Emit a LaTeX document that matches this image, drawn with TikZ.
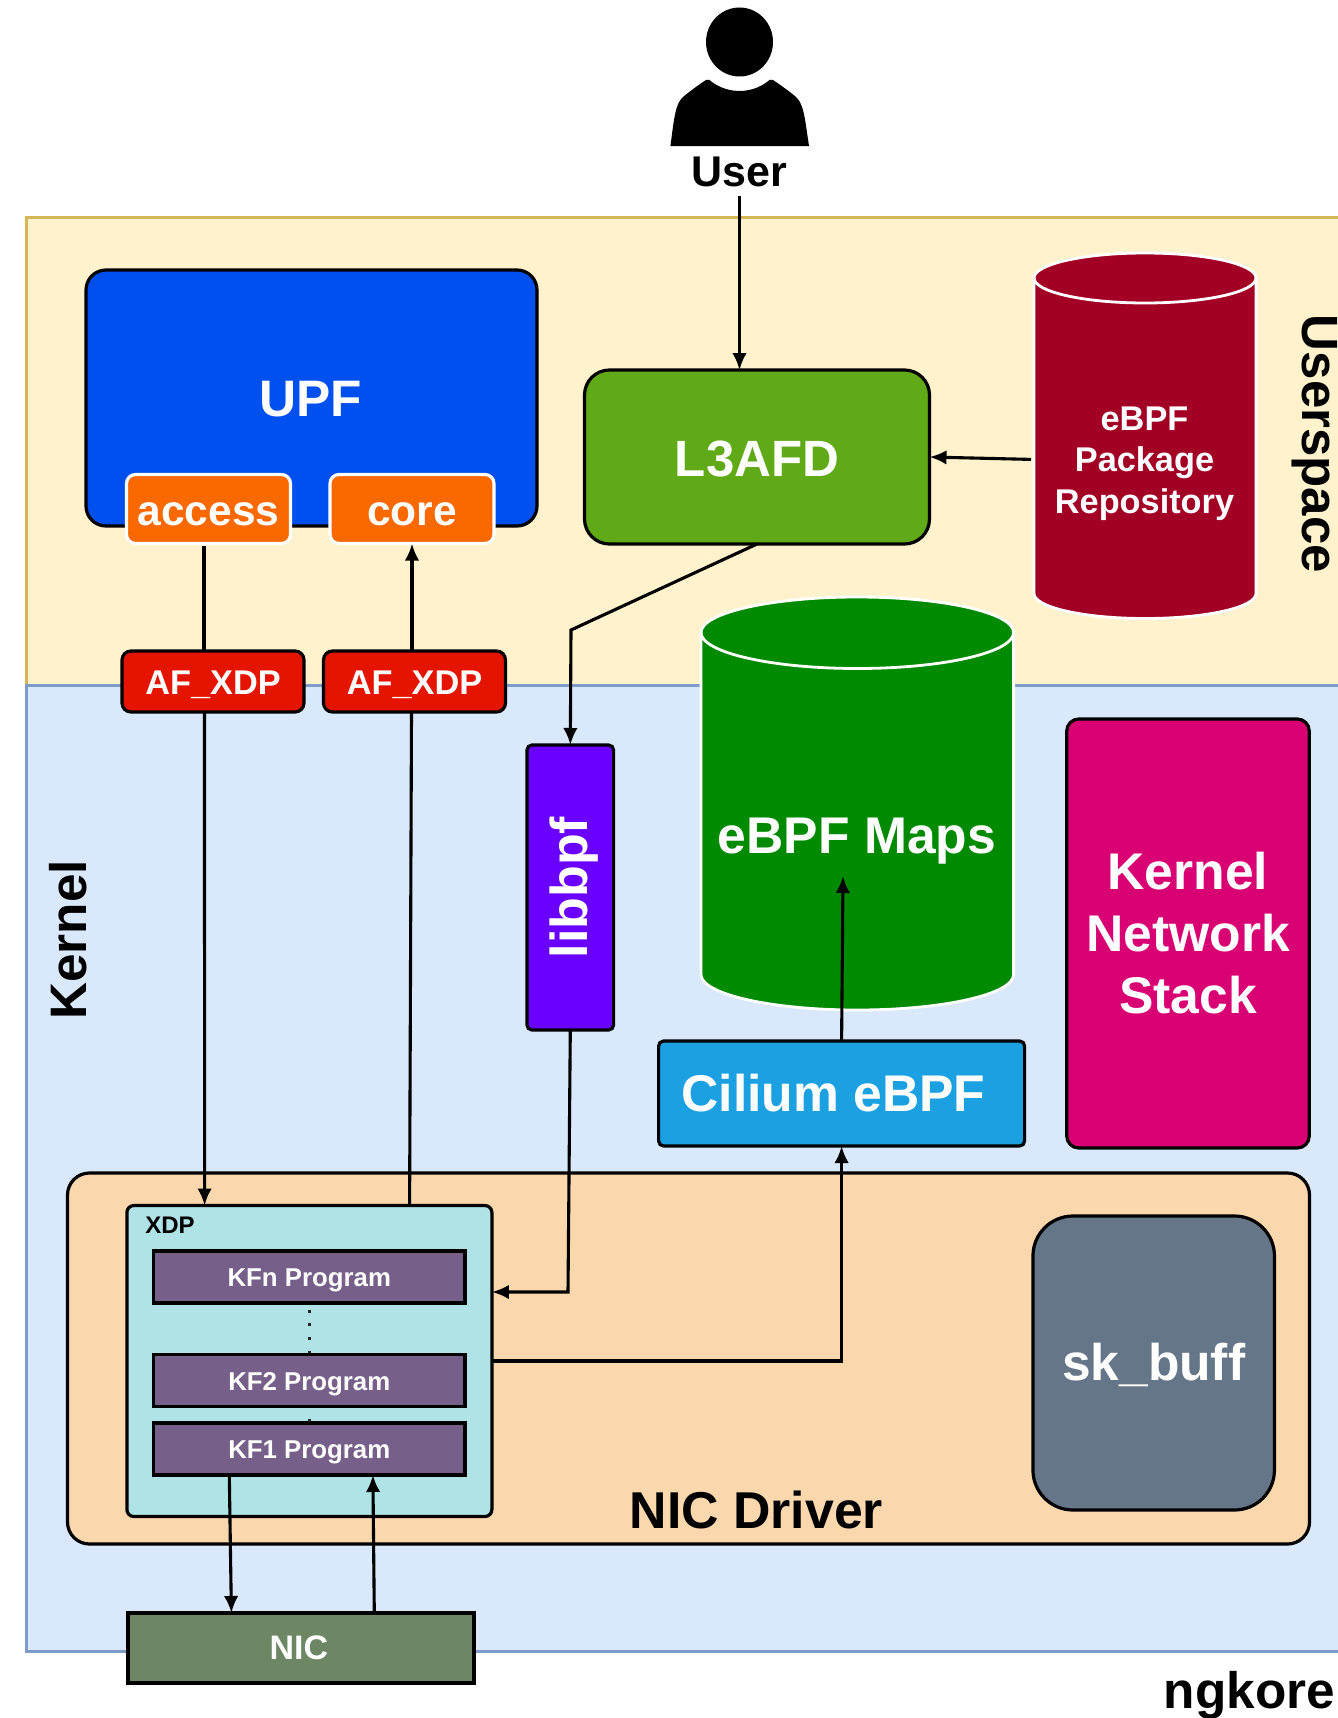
\documentclass[tikz,border=0pt]{standalone}
\usepackage{fontspec}
\setmainfont{Liberation Sans}
\usetikzlibrary{arrows.meta,calc}
\newcommand{\fsz}[2]{\fontsize{#1}{#2}\selectfont\bfseries}
\tikzset{
  flow/.style={draw=black,line width=3.1pt,-{Latex[length=17pt,width=14.5pt]}},
  plain/.style={draw=black,line width=3.1pt},
  boxn/.style={rectangle,inner sep=0pt,outer sep=0pt,line width=3.2pt,draw=black,text=white,align=center},
  cyl/.style={draw=white,line width=2.8pt},
  txt/.style={inner sep=0pt,outer sep=0pt,align=center},
  kfbox/.style={boxn,fill=kfc,minimum width=311.4pt,minimum height=52pt,font=\fsz{25.8}{30},text height=25.3pt},
  portbox/.style={boxn,fill=orangec,draw=white,rounded corners=9pt,minimum width=164pt,minimum height=69pt,font=\fsz{42.5}{50},text height=33.5pt},
  afbox/.style={boxn,fill=redc,rounded corners=9pt,minimum width=182pt,minimum height=61pt,font=\fsz{34.3}{40},text height=31pt},
}
\definecolor{usf}{HTML}{FFF2CC}\definecolor{usd}{HTML}{D6B656}
\definecolor{kf}{HTML}{DAE8FC}\definecolor{kd}{HTML}{7E9CC8}
\definecolor{upfc}{HTML}{0050EF}\definecolor{orangec}{HTML}{FA6800}
\definecolor{redc}{HTML}{E51400}\definecolor{greenl}{HTML}{60A917}
\definecolor{crim}{HTML}{A20025}\definecolor{emer}{HTML}{008A00}
\definecolor{viol}{HTML}{6A00FF}\definecolor{cyanb}{HTML}{1BA1E2}
\definecolor{magen}{HTML}{D80073}\definecolor{nicd}{HTML}{FAD7AC}
\definecolor{xdpc}{HTML}{B0E3E6}\definecolor{kfc}{HTML}{76608A}
\definecolor{olivec}{HTML}{6D8764}\definecolor{slate}{HTML}{647687}
\begin{document}
\begin{tikzpicture}[x=1pt,y=-1pt]
\useasboundingbox (0,0) rectangle (1338,1718);
\clip (0,0) rectangle (1338,1718);
% zones
\draw[fill=usf,draw=usd,line width=3pt] (26,217) rectangle (1350,685);
\draw[fill=kf,draw=kd,line width=3pt] (26,685) rectangle (1350,1651);
\node[txt,rotate=-90,font=\fsz{51}{60}] (userspace) at (1314.5,444) {Userspace};
\node[txt,rotate=90,font=\fsz{51.3}{60}] (kernel) at (68,940) {Kernel};
% user
\fill[black] (739.5,42) ellipse [x radius=33.5,y radius=34.5];
\fill[black] (670.4,146) .. controls (674,120) and (675,104) .. (683,97)
  .. controls (690,91) and (700,84) .. (706,80) .. controls (709,79) and (710,80) .. (712,82)
  .. controls (720,88) and (730,91) .. (739.5,91) .. controls (749,91) and (759,88) .. (767,82)
  .. controls (769,80) and (770,79) .. (773,80) .. controls (779,84) and (789,91) .. (796,97)
  .. controls (804,104) and (805,120) .. (809,146) -- cycle;
\node[txt,font=\fsz{43}{50},minimum height=48pt] (user) at (739.5,172) {User};
% UPF
\node[boxn,fill=upfc,rounded corners=20pt,minimum width=451pt,minimum height=256pt] (upf) at (311.5,398) {};
\node[txt,font=\fsz{51.3}{60},text=white] (upftext) at (310.5,399) {UPF};
\node[portbox] (access) at (208.5,509) {access};
\node[portbox] (core) at (412,509) {core};
\node[afbox] (afa) at (213,681.5) {AF\_XDP};
\node[afbox] (afb) at (414.5,681.5) {AF\_XDP};
% L3AFD
\node[boxn,fill=greenl,rounded corners=25pt,minimum width=345pt,minimum height=174pt,font=\fsz{51}{60},text height=39pt] (l3afd) at (757,457) {L3AFD};
% repo cylinder
\draw[cyl,fill=crim] (1034,278) -- (1034,593.5) arc[start angle=180,end angle=0,x radius=111,y radius=25] -- (1256,278) arc[start angle=0,end angle=-180,x radius=111,y radius=25] -- cycle;
\draw[cyl] (1034,278) arc[start angle=180,end angle=0,x radius=111,y radius=25];
\node[txt,text=white,font=\fsz{34.3}{41.5},minimum width=221pt,minimum height=363pt] (repo) at (1144.5,463.4) {eBPF\\Package\\Repository};
% maps cylinder
\draw[cyl,fill=emer] (701,632.5) -- (701,974.5) arc[start angle=180,end angle=0,x radius=156.3,y radius=35.5] -- (1013.6,632.5) arc[start angle=0,end angle=-180,x radius=156.3,y radius=35.5] -- cycle;
\draw[cyl] (701,632.5) arc[start angle=180,end angle=0,x radius=156.3,y radius=36];
\node[txt,minimum width=312pt,minimum height=412pt] (maps) at (857,803) {};
\node[txt,text=white,font=\fsz{51.6}{60}] (mapstext) at (857,841.5) {eBPF Maps};
% libbpf
\node[boxn,fill=viol,rounded corners=5pt,rotate=90,minimum width=285pt,minimum height=86.6pt,font=\fsz{52}{60},text height=46pt] (libbpf) at (570.3,887.5) {libbpf};
% cilium
\node[boxn,fill=cyanb,rounded corners=5pt,minimum width=366pt,minimum height=105pt] (cilium) at (841.6,1093.5) {};
\node[txt,text=white,font=\fsz{51.6}{60}] (ciliumtext) at (833.5,1093) {Cilium eBPF};
% kernel stack
\node[boxn,fill=magen,rounded corners=12pt,minimum width=242.5pt,minimum height=429pt,font=\fsz{51.6}{62}] (stack) at (1188,933.5) {Kernel\\Network\\Stack};
% NIC driver
\node[boxn,fill=nicd,rounded corners=22pt,minimum width=1242pt,minimum height=371pt] (driver) at (688.5,1358.5) {};
\node[txt,font=\fsz{51.8}{60}] (drivertext) at (756.5,1510) {NIC Driver};
\node[boxn,fill=slate,rounded corners=40pt,minimum width=241.5pt,minimum height=294pt,font=\fsz{51.5}{60},text height=42pt] (skbuff) at (1153.7,1363) {sk\_buff};
% XDP
\node[boxn,fill=xdpc,rounded corners=7pt,minimum width=365pt,minimum height=311pt] (xdp) at (309.4,1361) {};
\node[txt,font=\fsz{24}{28}] (xdptext) at (170,1225) {XDP};
\node[kfbox] (kfn) at (309.3,1277) {KFn Program};
\node[kfbox] (kfa) at (309.3,1449) {KF1 Program};
\draw[black!85,line width=3pt,dash pattern=on 3pt off 10.7pt,dash phase=7.2pt] (kfn.south) -- (kfa.north);
\node[kfbox] (kfb) at (309.3,1380.5) {KF2 Program};
% NIC
\node[boxn,fill=olivec,minimum width=346pt,minimum height=70pt,font=\fsz{34}{40}] (nic) at (301,1648) {NIC\hspace*{4.4pt}};
% ngkore
\node[txt,font=\fsz{51.3}{60}] (ngkore) at (1249.5,1695) {ngkore};
% connectors
\draw[flow,line width=2.7pt] (user.south) -- (l3afd.north -| user.south);
\draw[flow] ([xshift=-3pt,yshift=4pt]repo.west) -- (l3afd.east);
\draw[flow] (l3afd.south) -- (571,630) -- (libbpf.east);
\draw[flow] (libbpf.west) -- (568,1292) -- (xdp.east |- 0,1292);
\draw[flow] (xdp.east) -- (cilium.south |- xdp.east) -- (cilium.south);
\draw[flow] (cilium.north) -- ($(maps.center)+(-14,73)$);
\draw[plain] ([xshift=-4.5pt,yshift=-2pt]access.south) -- ([xshift=-9pt]afa.north);
\draw[flow] ([xshift=-8.5pt]afa.south) -- ([xshift=-104.8pt]xdp.north);
\draw[plain] ([xshift=100.2pt]xdp.north) -- ([xshift=-3pt]afb.south);
\draw[flow] ([xshift=-2.5pt]afb.north) -- (core.south);
\draw[flow] ([xshift=-80pt]kfa.south) -- ([xshift=-69.6pt]nic.north);
\draw[flow] ([xshift=73.3pt]nic.north) -- ([xshift=63.6pt]kfa.south);
\end{tikzpicture}
\end{document}
